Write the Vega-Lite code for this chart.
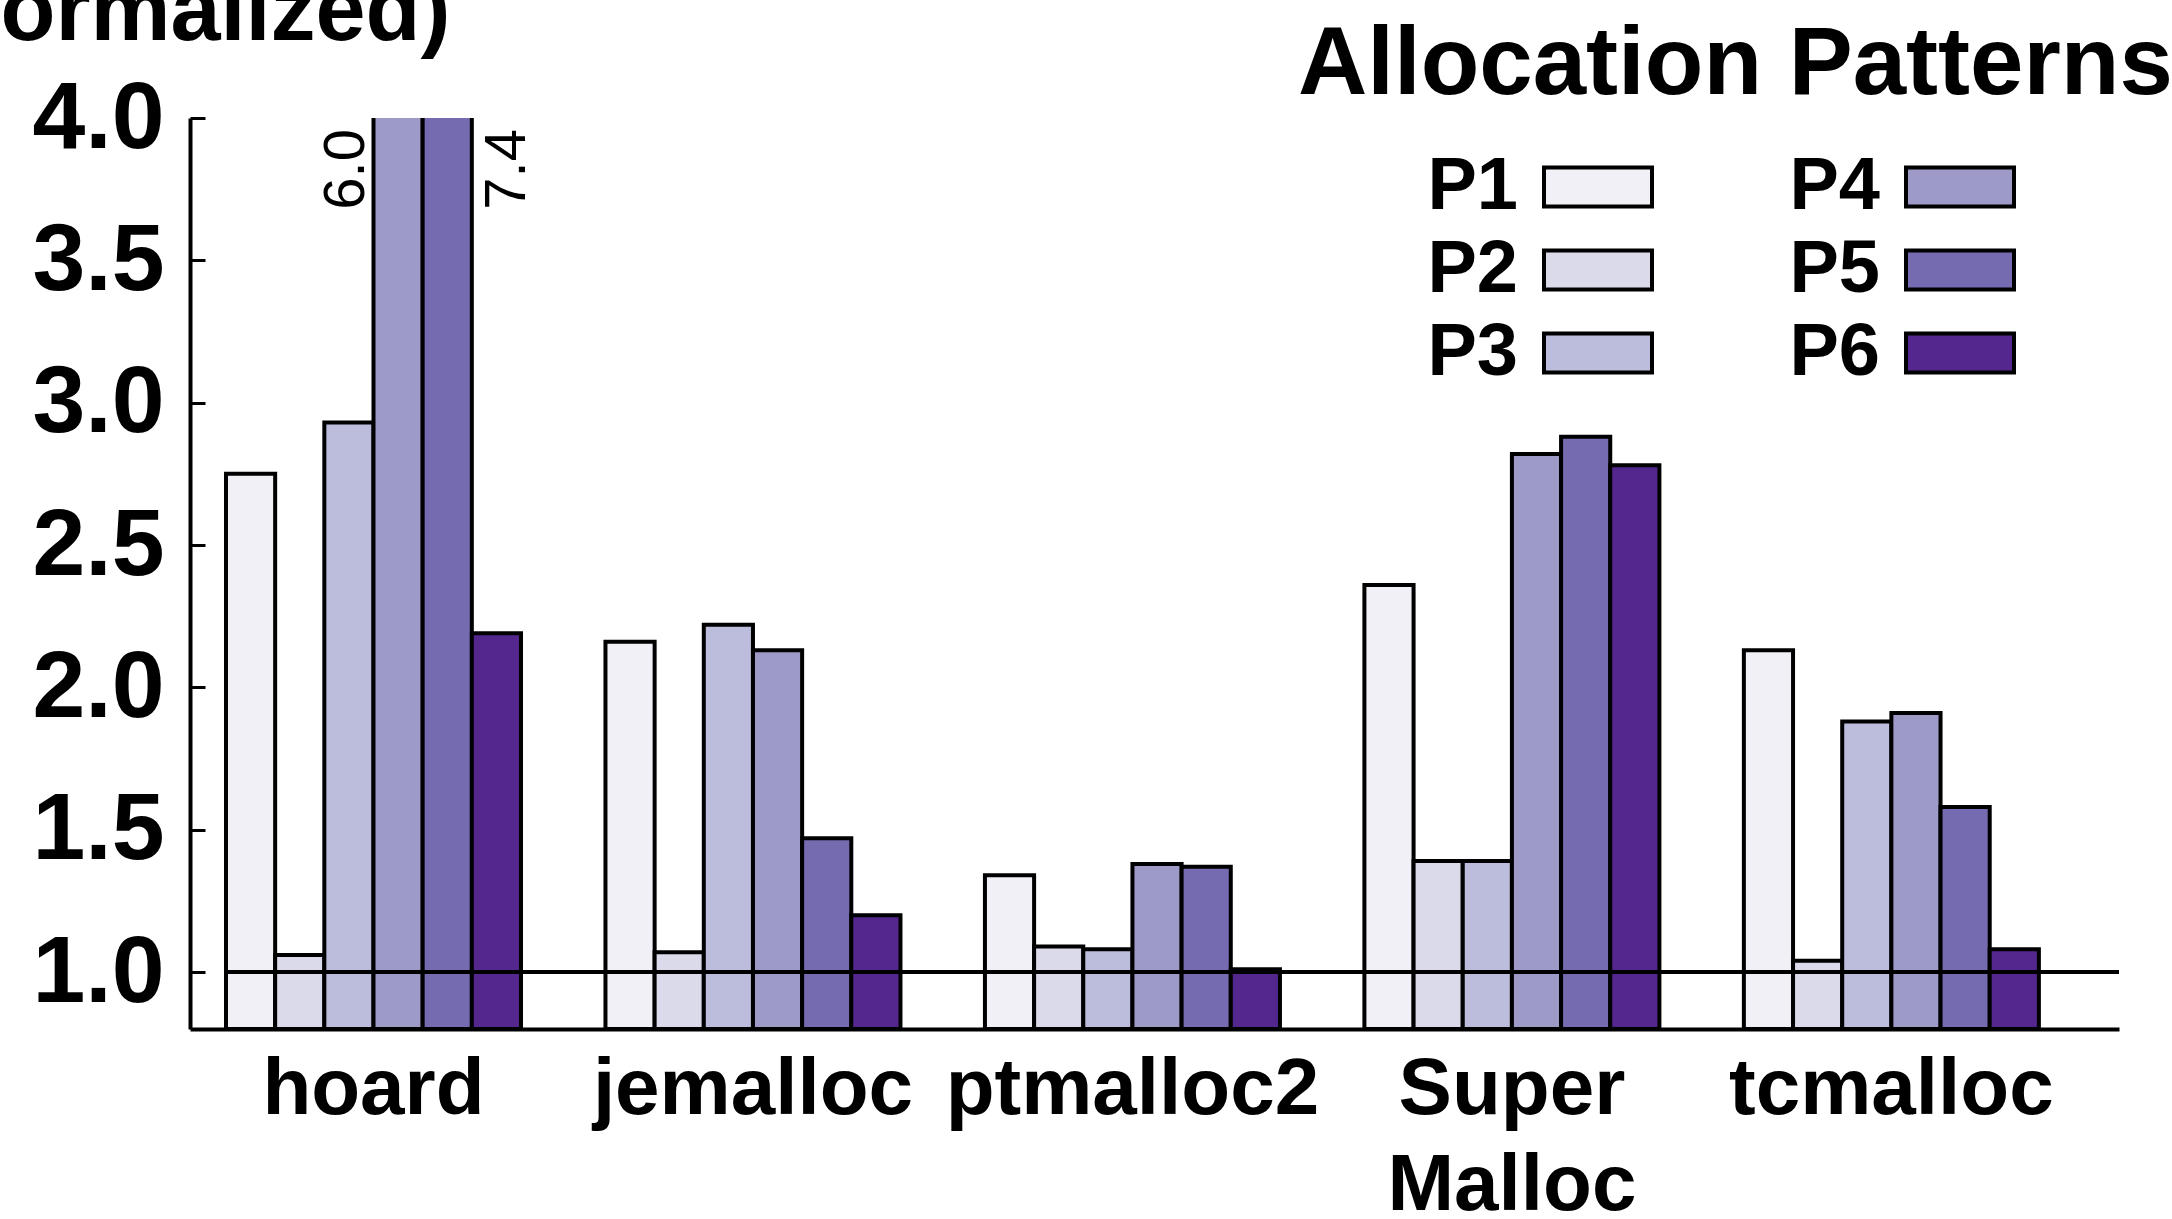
{
  "$schema": "https://vega.github.io/schema/vega-lite/v6.json",
  "width": 1929,
  "height": 911,
  "autosize": {"type": "none"},
  "padding": {"left": 190, "top": 118, "right": 53, "bottom": 190},
  "background": "white",
  "config": {"view": {"stroke": null}, "font": "Liberation Sans"},
  "data": {
    "values": [
      {"allocator": "hoard", "pattern": "P1", "value": 2.75},
      {"allocator": "hoard", "pattern": "P2", "value": 1.06},
      {"allocator": "hoard", "pattern": "P3", "value": 2.93},
      {"allocator": "hoard", "pattern": "P4", "value": 6.0},
      {"allocator": "hoard", "pattern": "P5", "value": 7.4},
      {"allocator": "hoard", "pattern": "P6", "value": 2.19},
      {"allocator": "jemalloc", "pattern": "P1", "value": 2.16},
      {"allocator": "jemalloc", "pattern": "P2", "value": 1.07},
      {"allocator": "jemalloc", "pattern": "P3", "value": 2.22},
      {"allocator": "jemalloc", "pattern": "P4", "value": 2.13},
      {"allocator": "jemalloc", "pattern": "P5", "value": 1.47},
      {"allocator": "jemalloc", "pattern": "P6", "value": 1.2},
      {"allocator": "ptmalloc2", "pattern": "P1", "value": 1.34},
      {"allocator": "ptmalloc2", "pattern": "P2", "value": 1.09},
      {"allocator": "ptmalloc2", "pattern": "P3", "value": 1.08},
      {"allocator": "ptmalloc2", "pattern": "P4", "value": 1.38},
      {"allocator": "ptmalloc2", "pattern": "P5", "value": 1.37},
      {"allocator": "ptmalloc2", "pattern": "P6", "value": 1.01},
      {"allocator": "SuperMalloc", "pattern": "P1", "value": 2.36},
      {"allocator": "SuperMalloc", "pattern": "P2", "value": 1.39},
      {"allocator": "SuperMalloc", "pattern": "P3", "value": 1.39},
      {"allocator": "SuperMalloc", "pattern": "P4", "value": 2.82},
      {"allocator": "SuperMalloc", "pattern": "P5", "value": 2.88},
      {"allocator": "SuperMalloc", "pattern": "P6", "value": 2.78},
      {"allocator": "tcmalloc", "pattern": "P1", "value": 2.13},
      {"allocator": "tcmalloc", "pattern": "P2", "value": 1.04},
      {"allocator": "tcmalloc", "pattern": "P3", "value": 1.88},
      {"allocator": "tcmalloc", "pattern": "P4", "value": 1.91},
      {"allocator": "tcmalloc", "pattern": "P5", "value": 1.58},
      {"allocator": "tcmalloc", "pattern": "P6", "value": 1.08}
    ]
  },
  "layer": [
    {
      "mark": {"type": "bar", "stroke": "black", "strokeWidth": 4, "clip": true},
      "encoding": {
        "x": {
          "field": "allocator",
          "type": "nominal",
          "sort": ["hoard", "jemalloc", "ptmalloc2", "SuperMalloc", "tcmalloc"],
          "scale": {"paddingInner": 0.2226, "paddingOuter": 0.153, "align": 0.31},
          "axis": {
            "title": null,
            "labelAngle": 0,
            "labelFontSize": 80,
            "labelFontWeight": "bold",
            "labelColor": "black",
            "labelPadding": 38,
            "labelLineHeight": 96,
            "labelLimit": 0,
            "labelExpr": "datum.label == 'SuperMalloc' ? ['Super', 'Malloc'] : datum.label",
            "tickSize": -17,
            "tickWidth": 2,
            "tickColor": "black",
            "domainColor": "black",
            "domainWidth": 4
          }
        },
        "xOffset": {
          "field": "pattern",
          "type": "nominal",
          "sort": ["P1", "P2", "P3", "P4", "P5", "P6"],
          "scale": {"paddingInner": 0, "paddingOuter": 0}
        },
        "y": {
          "field": "value",
          "type": "quantitative",
          "scale": {"domain": [0.8, 4.0], "zero": false, "nice": false},
          "axis": {
            "values": [1, 1.5, 2, 2.5, 3, 3.5, 4],
            "format": ".1f",
            "grid": false,
            "title": "(Normalized)",
            "titleAngle": 0,
            "titleAlign": "left",
            "titleBaseline": "alphabetic",
            "titleX": -285,
            "titleY": -79,
            "titleFontSize": 90,
            "titleFontWeight": "bold",
            "titleColor": "black",
            "labelFontSize": 95,
            "labelFontWeight": "bold",
            "labelColor": "black",
            "labelPadding": 41,
            "tickSize": -15,
            "tickWidth": 3,
            "tickColor": "black",
            "domainColor": "black",
            "domainWidth": 4
          }
        },
        "y2": {"datum": 0.8},
        "fill": {
          "field": "pattern",
          "type": "nominal",
          "scale": {
            "domain": ["P1", "P2", "P3", "P4", "P5", "P6"],
            "range": ["#f2f0f7", "#dadaeb", "#bcbddc", "#9e9ac8", "#756bb1", "#54278f"]
          },
          "legend": {
            "orient": "none",
            "legendX": 1108,
            "legendY": -100,
            "padding": 0,
            "title": "Allocation Patterns",
            "titleFontSize": 96,
            "titleFontWeight": "bold",
            "titleColor": "black",
            "titleLimit": 0,
            "titlePadding": 36,
            "columns": 2,
            "columnPadding": -45,
            "rowPadding": 9,
            "symbolType": "M-2,-0.72H2V0.72H-2Z",
            "symbolSize": 2916,
            "symbolOffset": 263,
            "symbolStrokeColor": "black",
            "symbolStrokeWidth": 4,
            "symbolOpacity": 1,
            "labelFontSize": 74,
            "labelFontWeight": "bold",
            "labelColor": "black",
            "labelAlign": "right",
            "labelOffset": -117,
            "labelLimit": 0
          }
        }
      }
    },
    {
      "mark": {"type": "rule", "color": "black", "strokeWidth": 4},
      "encoding": {
        "x": {"datum": "hoard", "type": "nominal", "bandPosition": 0},
        "x2": {"value": {"expr": "width"}},
        "y": {"datum": 1}
      }
    },
    {
      "transform": [{"filter": "datum.pattern == 'P4' && datum.value > 4"}],
      "mark": {"type": "text", "angle": 270, "align": "right", "baseline": "alphabetic", "dx": -11, "dy": -34, "fontSize": 58, "color": "black"},
      "encoding": {
        "x": {"field": "allocator", "type": "nominal", "sort": ["hoard", "jemalloc", "ptmalloc2", "SuperMalloc", "tcmalloc"]},
        "xOffset": {"field": "pattern", "type": "nominal", "sort": ["P1", "P2", "P3", "P4", "P5", "P6"]},
        "y": {"datum": 4},
        "text": {"field": "value", "type": "quantitative", "format": ".1f"}
      }
    },
    {
      "transform": [{"filter": "datum.pattern == 'P5' && datum.value > 4"}],
      "mark": {"type": "text", "angle": 270, "align": "right", "baseline": "alphabetic", "dx": -11, "dy": 78, "fontSize": 58, "color": "black"},
      "encoding": {
        "x": {"field": "allocator", "type": "nominal", "sort": ["hoard", "jemalloc", "ptmalloc2", "SuperMalloc", "tcmalloc"]},
        "xOffset": {"field": "pattern", "type": "nominal", "sort": ["P1", "P2", "P3", "P4", "P5", "P6"]},
        "y": {"datum": 4},
        "text": {"field": "value", "type": "quantitative", "format": ".1f"}
      }
    }
  ]
}
